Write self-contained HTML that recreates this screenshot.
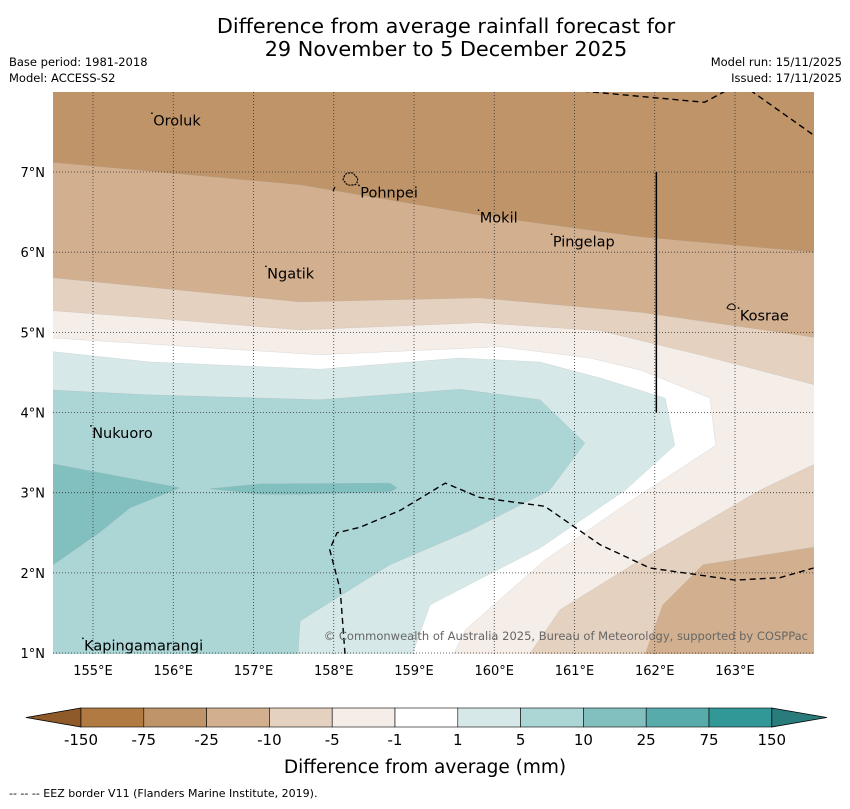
<!DOCTYPE html>
<html><head><meta charset="utf-8"><style>
body{margin:0;background:#fff;width:850px;height:804px;overflow:hidden;font-family:"Liberation Sans","DejaVu Sans",sans-serif}
</style></head><body>
<svg id="chart" width="850" height="804" xmlns="http://www.w3.org/2000/svg" font-family="DejaVu Sans, Liberation Sans, sans-serif">
<defs><clipPath id="plotclip"><rect x="53" y="92" width="761" height="562"/></clipPath></defs>
<text x="446" y="33" text-anchor="middle" font-size="20.8">Difference from average rainfall forecast for</text>
<text x="446" y="56" text-anchor="middle" font-size="20.8">29 November to 5 December 2025</text>
<text x="9" y="66" font-size="11.5">Base period: 1981-2018</text>
<text x="9" y="82" font-size="11.5">Model: ACCESS-S2</text>
<text x="842" y="66" font-size="11.5" text-anchor="end">Model run: 15/11/2025</text>
<text x="842" y="82" font-size="11.5" text-anchor="end">Issued: 17/11/2025</text>
<g id="plot" clip-path="url(#plotclip)"></g>
<g id="overlay"></g>
<g id="cbar"></g>
<text x="425" y="773" text-anchor="middle" font-size="18.5">Difference from average (mm)</text>
<text x="9" y="797" font-size="11">--  --  -- EEZ border V11 (Flanders Marine Institute, 2019).</text>
</svg>
<script>
const lonTicks=[155,156,157,158,159,160,161,162,163];
const latTicks=[1,2,3,4,5,6,7];
const levels=["-150","-75","-25","-10","-5","-1","1","5","10","25","75","150"];
const levelColors=["#b07a42","#bf9469","#d2b08f","#e4d1c0","#f4ede8","#ffffff","#d6e8e8","#acd5d5","#82c0c0","#58abab","#329797"];
const contourMinus25=[[154.5,7.12],[157.58,6.84],[159.82,6.46],[161.82,6.19],[163.98,6.0],[164.1,6.0],[164.1,0.9],[154.4,0.9]];
const contourMinus10=[[154.5,5.68],[157.58,5.38],[159.82,5.43],[161.82,5.25],[163.98,4.94],[164.1,4.94],[164.1,2.32],[163.98,2.32],[162.6,2.1],[162.1,1.6],[161.85,0.9],[154.4,0.9]];
const contourMinus5=[[154.5,5.27],[155.71,5.18],[157.58,5.03],[159.82,5.12],[161.32,5.02],[162.56,4.72],[163.98,4.35],[164.1,4.35],[164.1,3.35],[163.98,3.35],[163.31,3.03],[161.82,2.16],[160.82,1.54],[160.38,0.9],[154.4,0.9]];
const contourMinus1=[[154.5,4.93],[157.83,4.72],[160.07,4.82],[161.19,4.68],[161.82,4.53],[162.69,4.18],[162.76,3.59],[161.63,2.85],[160.63,2.16],[159.64,1.29],[159.45,0.9],[154.4,0.9]];
const contourPlus1=[[154.5,4.76],[155.71,4.63],[157.83,4.54],[159.57,4.68],[160.57,4.63],[161.32,4.43],[162.13,4.18],[162.25,3.59],[161.63,3.03],[160.57,2.31],[159.2,1.6],[158.95,0.9],[154.4,0.9]];
const contourPlus5=[[154.5,4.28],[155.71,4.22],[157.83,4.16],[159.57,4.29],[160.57,4.16],[161.13,3.62],[160.69,3.03],[159.7,2.53],[158.7,2.1],[157.58,1.4],[157.55,0.9],[154.4,0.9]];
const contourPlus10a=[[154.4,3.36],[154.5,3.36],[156.08,3.06],[155.46,2.81],[155.09,2.51],[154.59,2.16],[154.5,2.1],[154.4,2.1]];
const contourPlus10b=[[156.46,3.05],[157.08,3.11],[158.7,3.12],[158.79,3.06],[158.7,3.01],[157.58,2.98],[157.08,2.98]];
const eezTopA=[[160.98,8.02],[162.62,7.87],[162.9,8.02]];
const eezTopB=[[163.19,8.02],[163.98,7.46]];
const eezBottom=[[158.14,0.99],[158.08,1.79],[157.95,2.29],[158.04,2.5],[158.33,2.57],[158.83,2.78],[159.39,3.12],[159.82,2.94],[160.63,2.83],[161.32,2.35],[161.94,2.06],[163.0,1.91],[163.56,1.94],[163.98,2.06]];
const places=[["Oroluk",155.75,7.58],["Pohnpei",158.33,6.68],["Mokil",159.82,6.37],["Pingelap",160.73,6.07],["Ngatik",157.17,5.67],["Kosrae",163.06,5.15],["Nukuoro",154.99,3.68],["Kapingamarangi",154.89,1.03]];

const NS="http://www.w3.org/2000/svg";
function x(lon){return 93+(lon-155)*80.25;}
function y(lat){return 172+(7-lat)*80.17;}
function mk(tag,attrs,parent){const e=document.createElementNS(NS,tag);for(const k in attrs)e.setAttribute(k,attrs[k]);parent.appendChild(e);return e;}
function pts(a){return a.map(p=>x(p[0]).toFixed(1)+","+y(p[1]).toFixed(1)).join(" ");}
const plot=document.getElementById("plot"),ov=document.getElementById("overlay"),cb=document.getElementById("cbar");
let r=mk("rect",{x:53,y:92,width:761,height:562,fill:levelColors[1]},plot);


const layers=[[contourMinus25,2,'contour-minus25'],[contourMinus10,3,'contour-minus10'],[contourMinus5,4,'contour-minus5'],[contourMinus1,5,'contour-minus1'],[contourPlus1,6,'contour-plus1'],[contourPlus5,7,'contour-plus5'],[contourPlus10a,8,'contour-plus10-west'],[contourPlus10b,8,'contour-plus10-band']];
layers.forEach(l=>{const p=mk("polygon",{points:pts(l[0]),fill:levelColors[l[1]],stroke:"#999",'stroke-width':0.3,'stroke-opacity':0.5},plot);

});
lonTicks.forEach(v=>{const g=mk("line",{x1:x(v),x2:x(v),y1:92,y2:654,stroke:"#333",'stroke-width':0.8,'stroke-dasharray':"1,2"},plot);


const t=mk("text",{x:x(v),y:675,'text-anchor':"middle",'font-size':13},ov);t.textContent=v+"°E";

});
latTicks.forEach(v=>{const g=mk("line",{x1:53,x2:814,y1:y(v),y2:y(v),stroke:"#333",'stroke-width':0.8,'stroke-dasharray':"1,2"},plot);


const t=mk("text",{x:45,y:y(v)+5,'text-anchor':"end",'font-size':13},ov);t.textContent=v+"°N";

});
[[eezTopA,'eez-border-north'],[eezTopB,'eez-border-northeast'],[eezBottom,'eez-border-south']].forEach(e=>{const l=mk("polyline",{points:pts(e[0]),fill:"none",stroke:"#000",'stroke-width':1.4,'stroke-dasharray':"6,4"},plot);

});
let vl=mk("line",{x1:x(162.02),x2:x(162.02),y1:y(7),y2:y(4),stroke:"#000",'stroke-width':1.5},plot);


let pi=mk("path",{d:"M344,177 q1,-4 5,-4 q5,-1 6,3 q4,2 2,5 q1,4 -5,4 q-5,1 -7,-3 q-3,-2 -1,-5z",fill:"none",stroke:"#000",'stroke-width':1.2,'stroke-dasharray':"2,1"},plot);


let pd=mk("line",{x1:333,y1:191,x2:335,y2:187,stroke:"#000",'stroke-width':1.2},plot);


let ki=mk("path",{d:"M727,308 q2,-5 6,-4 q3,2 2,5 q-3,2 -8,-1z",fill:"none",stroke:"#000",'stroke-width':1},plot);


places.forEach(p=>{const t=mk("text",{x:x(p[1]),y:y(p[2]),'font-size':14.5},ov);t.textContent=p[0];


const d=mk("rect",{x:x(p[1])-2,y:y(p[2])-13,width:1.5,height:1.5,fill:"#000"},ov);

});
let cr=mk("text",{x:808,y:640,'text-anchor':"end",'font-size':11.5,fill:"#666"},ov);cr.textContent="© Commonwealth of Australia 2025, Bureau of Meteorology, supported by COSPPac";


const cx0=81,cw=62.8,cy=708,ch=19;
let lt=mk("polygon",{points:`26,${cy+ch/2} ${cx0},${cy} ${cx0},${cy+ch}`,fill:"#8f5a2a",stroke:"#000",'stroke-width':0.8},cb);


levelColors.forEach((c,i)=>{const rr=mk("rect",{x:cx0+i*cw,y:cy,width:cw,height:ch,fill:c,stroke:"#000",'stroke-width':0.6},cb);

});
const cx1=cx0+levelColors.length*cw;
let rt=mk("polygon",{points:`${cx1},${cy} ${cx1+55},${cy+ch/2} ${cx1},${cy+ch}`,fill:"#2a7b7b",stroke:"#000",'stroke-width':0.8},cb);


levels.forEach((v,i)=>{const t=mk("text",{x:cx0+i*cw,y:745,'text-anchor':"middle",'font-size':15},cb);t.textContent=v;

});
</script>
</body></html>
